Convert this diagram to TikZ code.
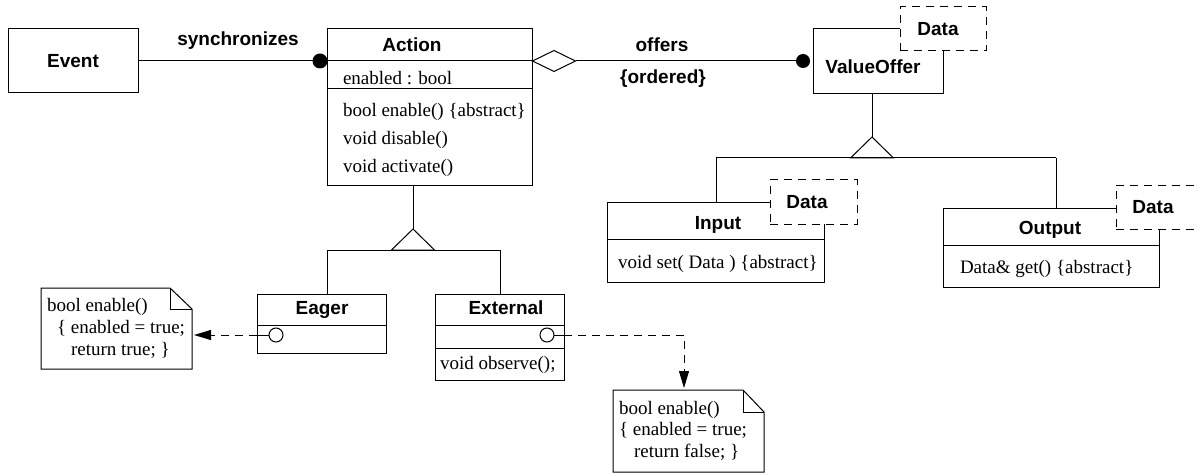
\documentclass[tikz,border=0pt]{standalone}
\usepackage{fontspec}
\setmainfont{Liberation Serif}
\setsansfont{Liberation Sans}
\usetikzlibrary{shapes.geometric,arrows.meta,calc}
\begin{document}
\begin{tikzpicture}[x=1pt,y=-1pt,
 every node/.style={inner sep=0pt, outer sep=0pt},
 ln/.style={line width=1pt},
 box/.style={draw, line width=1pt, fill=white, anchor=north west},
 ttl/.style={font=\fontsize{19}{23}\selectfont\sffamily\bfseries, text height=13.5pt, text depth=4pt, yshift=-1.5pt},
 txt/.style={font=\fontsize{19}{23}\selectfont\rmfamily, anchor=west, text height=13.5pt, text depth=4pt, yshift=-2.5pt},
 dsh/.style={line width=1pt, dash pattern=on 8pt off 6pt},
 tmpl/.style={draw, line width=1pt, dash pattern=on 8pt off 6pt, fill=white, anchor=north west},
 dot/.style={circle, fill=black, minimum size=15pt},
 port/.style={circle, draw, line width=1pt, fill=white, minimum size=14pt},
 tip/.style={-{Triangle[length=17pt,width=10pt]}},
 ]
\useasboundingbox (0,0) rectangle (1198,473);
\clip (0,0) rectangle (1198,473);

% ---------- Event ----------
\node[box, minimum width=130pt, minimum height=64pt] (event) at (8,29) {};
\node[ttl] (eventT) at (73,61) {Event};

% ---------- Action ----------
\node[box, minimum width=205pt, minimum height=156pt] (action) at (327,29) {};
\node[ttl] (actionT) at (412,45) {Action};
\draw[ln] (327,61) -- (532,61);
\draw[ln] (327,89) -- (532,89);
\node[txt] (actA) at (343,77) {enabled : bool};
\node[txt] (actM1) at (343,109) {bool enable() \{abstract\}};
\node[txt] (actM2) at (343,137) {void disable()};
\node[txt] (actM3) at (343,165) {void activate()};

% synchronizes
\node[dot] (sdot) at (320,61) {};
\draw[ln] (event.east) -- (sdot);
\node[ttl] (syncL) at (238,39) {synchronizes};

% ---------- ValueOffer ----------
\node[box, minimum width=130pt, minimum height=65pt] (vo) at (813,29) {};
\node[ttl] (voT) at (873,67) {ValueOffer};
\node[tmpl, minimum width=86pt, minimum height=44pt] (voD) at (900,7) {};
\node[ttl] (voDT) at (938,29) {Data};

% offers association
\node[diamond, draw, line width=1pt, fill=white, aspect=2, minimum width=43pt, minimum height=21pt] (agg) at (554,61) {};
\node[dot, minimum size=14pt] (odot) at (803,61) {};
\draw[ln] (agg.east) -- (odot);
\node[ttl] (offL) at (662,45) {offers};
\node[ttl] (ordL) at (663,77) {\{ordered\}};

% ---------- Input ----------
\node[box, minimum width=217pt, minimum height=80pt] (input) at (607,202) {};
\node[ttl] (inputT) at (718,223) {Input};
\draw[ln] (607,239) -- (824,239);
\node[txt] (inputM) at (618,261) {void set( Data ) \{abstract\}};
\node[tmpl, minimum width=87pt, minimum height=44pt] (inD) at (770,180) {};
\node[ttl] (inDT) at (807,202) {Data};

% ---------- Output ----------
\node[box, minimum width=216pt, minimum height=79pt] (output) at (943,208) {};
\node[ttl] (outputT) at (1050,228) {Output};
\draw[ln] (943,245) -- (1159,245);
\node[txt] (outputM) at (960,266) {Data\& get() \{abstract\}};
\node[tmpl, minimum width=87pt, minimum height=44pt] (outD) at (1116,185) {};
\node[ttl] (outDT) at (1153,207) {Data};

% generalization ValueOffer
\coordinate (gV) at (872,137);
\coordinate (bV1) at (716,158);
\coordinate (bV2) at (1056,158);
\draw[ln] (gV |- vo.south) -- (gV);
\draw[ln, fill=white] (gV) -- ++(21.5,21) -- ++(-43,0) -- cycle;
\draw[ln] (bV1) -- (bV2);
\draw[ln] (bV1) -- (bV1 |- input.north);
\draw[ln] (bV2) -- (bV2 |- output.north);

% ---------- Eager ----------
\node[box, minimum width=129pt, minimum height=59pt] (eager) at (257,294) {};
\node[ttl] (eagerT) at (322,308) {Eager};
\draw[ln] (257,325) -- (386,325);
\node[port] (eport) at (276,335) {};
\coordinate (eP) at (eager.west |- eport);
\draw[ln] (eP) -- (eport.west);

% ---------- External ----------
\node[box, minimum width=129pt, minimum height=86pt] (ext) at (435,294) {};
\node[ttl] (extT) at (506,308) {External};
\draw[ln] (435,325) -- (564,325);
\draw[ln] (435,348) -- (564,348);
\node[txt] (extM) at (440,362) {void observe();};
\node[port] (xport) at (547,335) {};
\coordinate (xP) at (ext.east |- xport);
\draw[ln] (xport.east) -- (xP);

% generalization Action
\coordinate (gA) at (413,229);
\coordinate (bA1) at (327,250);
\coordinate (bA2) at (500,250);
\draw[ln] (gA |- action.south) -- (gA);
\draw[ln, fill=white] (gA) -- ++(21.5,21) -- ++(-43,0) -- cycle;
\draw[ln] (bA1) -- (bA2);
\draw[ln] (bA1) -- (bA1 |- eager.north);
\draw[ln] (bA2) -- (bA2 |- ext.north);

% ---------- Note 1 ----------
\node[anchor=north west, minimum width=151pt, minimum height=81pt] (note1) at (41,288) {};
\draw[ln, fill=white] (note1.north west) -- ($(note1.north east)+(-22,0)$) -- ($(note1.north east)+(0,21)$) -- (note1.south east) -- (note1.south west) -- cycle;
\draw[ln] ($(note1.north east)+(-22,0)$) -- ($(note1.north east)+(-22,21)$) -- ($(note1.north east)+(0,21)$);
\node[txt] (n1a) at (47,304) {bool enable()};
\node[txt] (n1b) at (57,326) {\{ enabled = true;};
\node[txt] (n1c) at (71,348) {return true; \}};
\draw[dsh, tip, shorten >=2pt] (eP) -- (note1.east |- eP);

% ---------- Note 2 ----------
\node[anchor=north west, minimum width=151pt, minimum height=82pt] (note2) at (613,390) {};
\draw[ln, fill=white] (note2.north west) -- ($(note2.north east)+(-21,0)$) -- ($(note2.north east)+(0,22)$) -- (note2.south east) -- (note2.south west) -- cycle;
\draw[ln] ($(note2.north east)+(-21,0)$) -- ($(note2.north east)+(-21,22)$) -- ($(note2.north east)+(0,22)$);
\node[txt] (n2a) at (619,407) {bool enable()};
\node[txt] (n2b) at (619,428) {\{ enabled = true;};
\node[txt] (n2c) at (634,450) {return false; \}};
\coordinate (n2top) at (684,390);
\draw[dsh, tip, shorten >=2pt] (xP) -| (n2top);
\end{tikzpicture}
\end{document}
